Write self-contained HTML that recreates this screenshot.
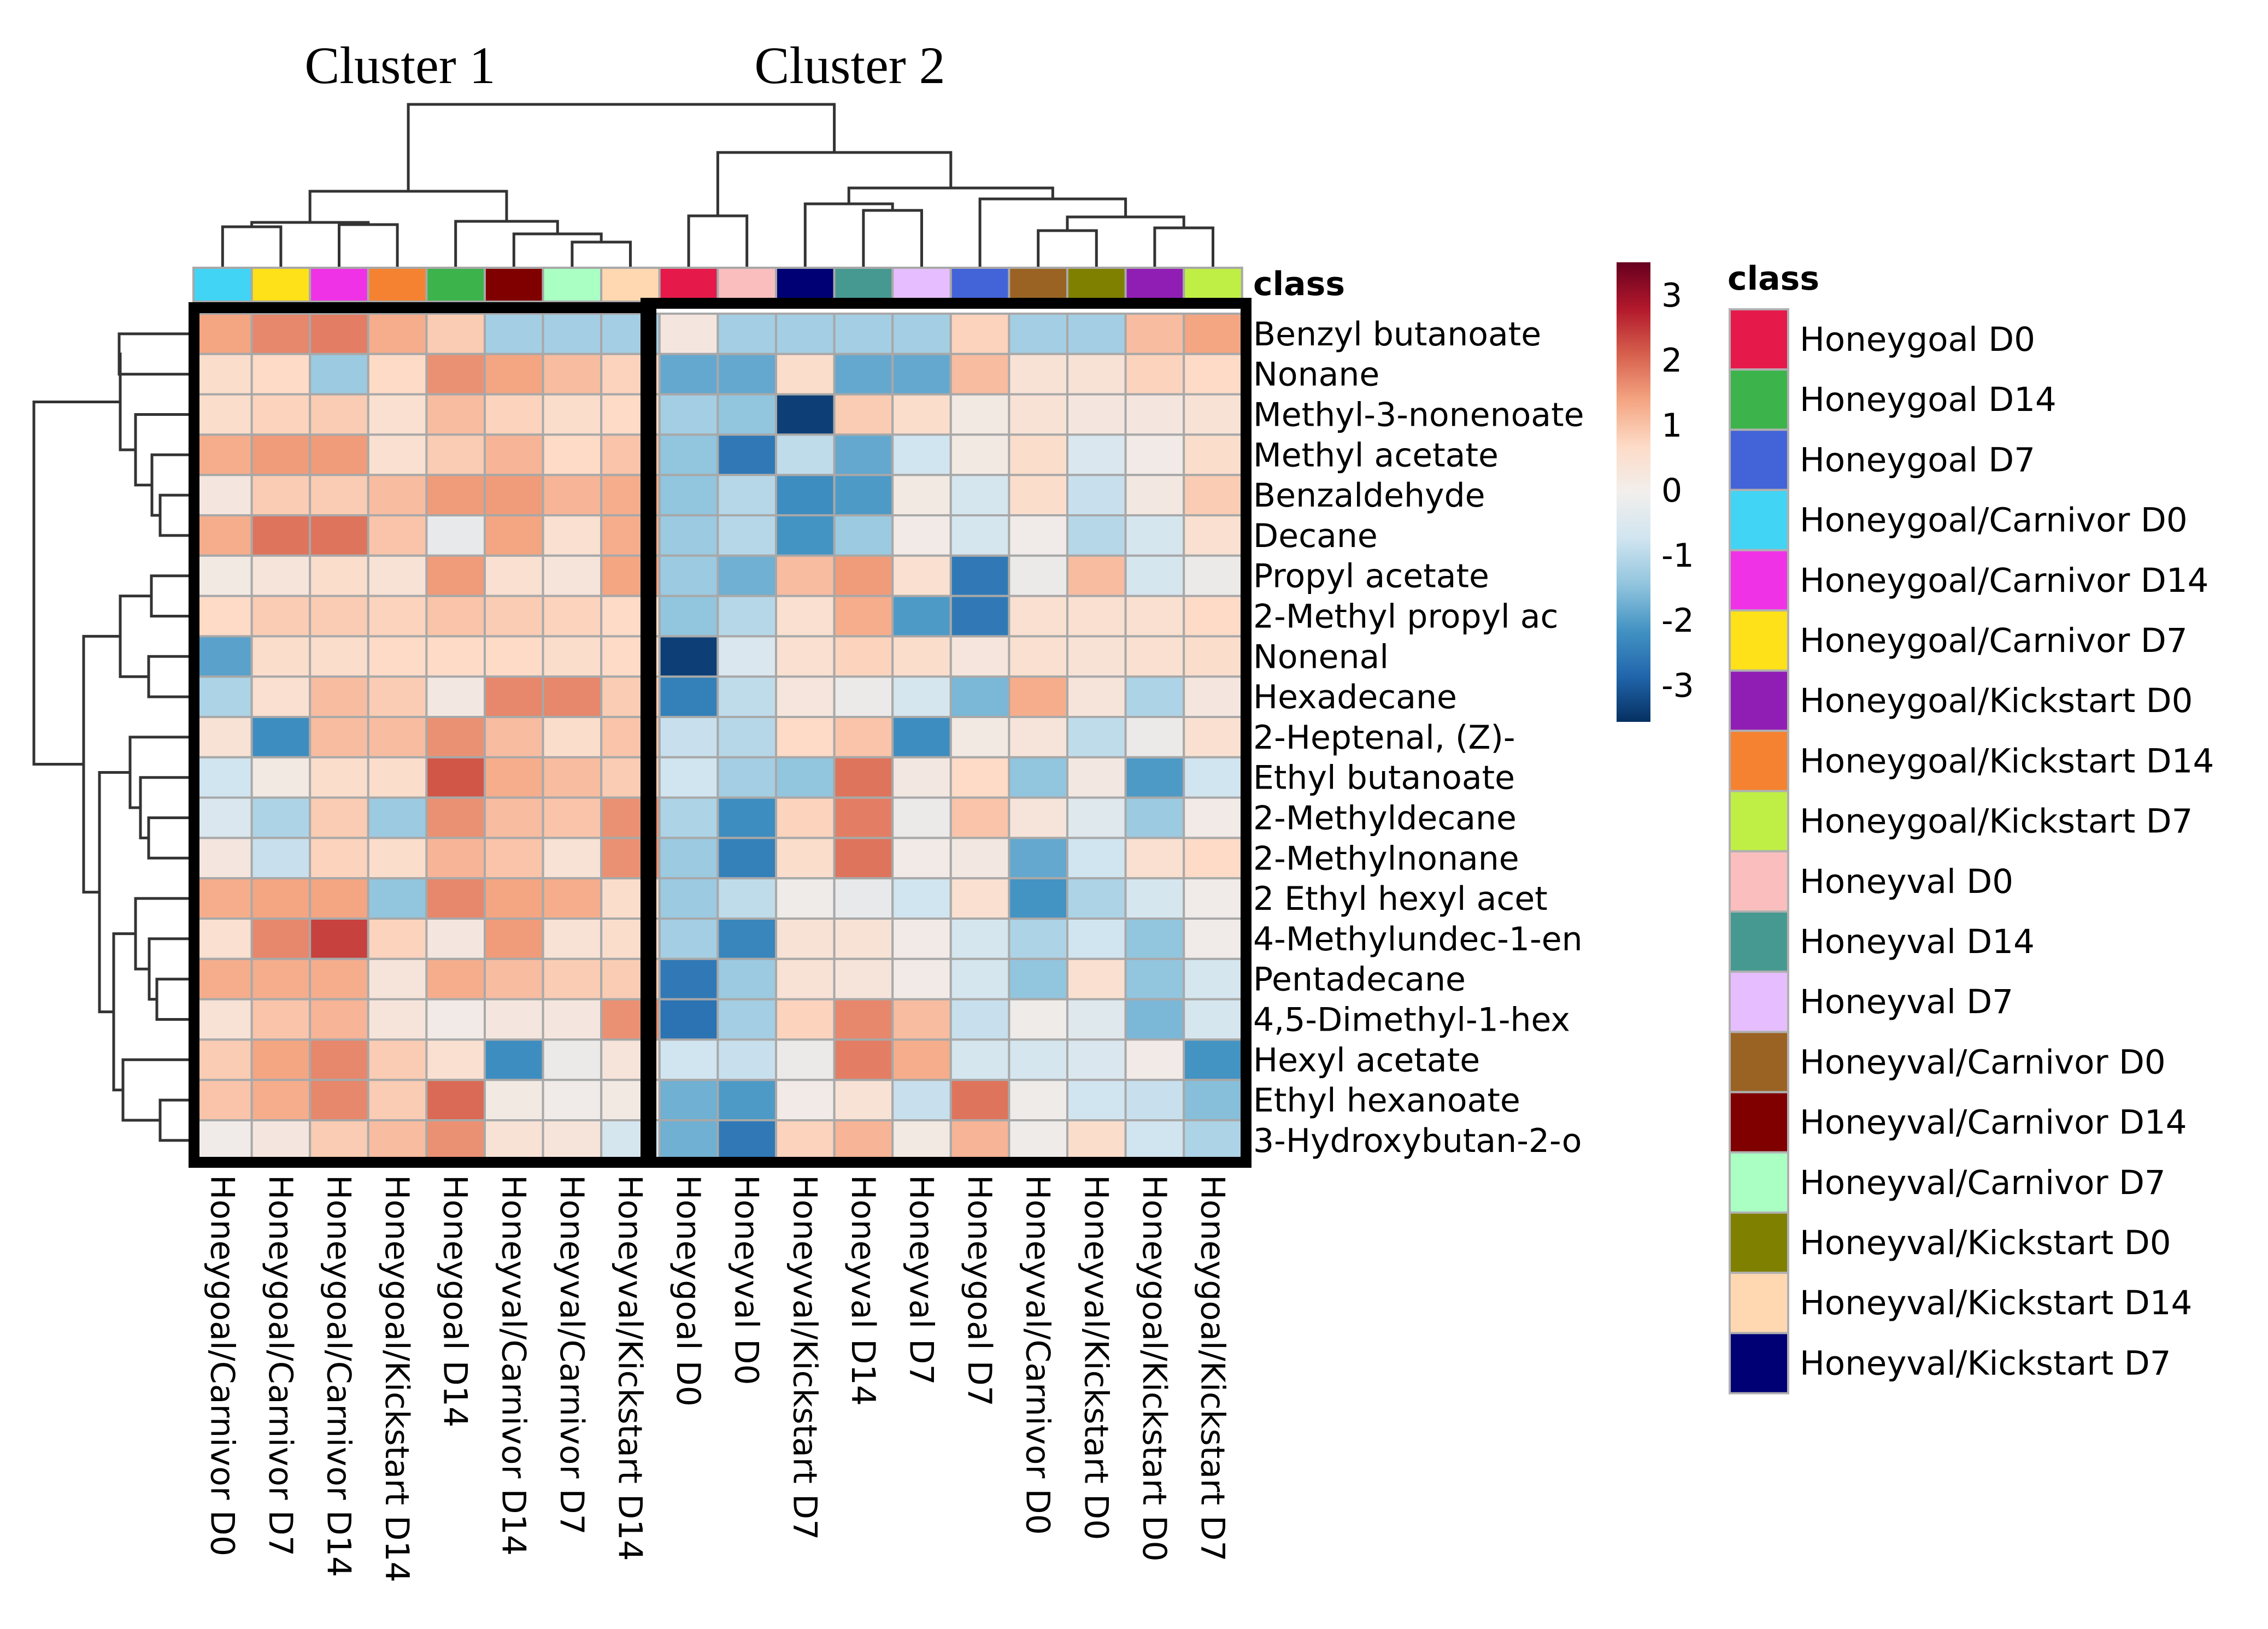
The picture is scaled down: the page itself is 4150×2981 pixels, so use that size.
<!DOCTYPE html>
<html><head><meta charset="utf-8"><style>
html,body{margin:0;padding:0;background:#fff;}
svg{display:block;}
</style></head><body>
<svg id="chart" width="4150" height="2981" viewBox="0 0 4150 2981" xmlns="http://www.w3.org/2000/svg">
<defs>
<linearGradient id="cbar" x1="0" y1="1" x2="0" y2="0">
<stop offset="0" stop-color="#053061"/><stop offset="0.1" stop-color="#2166ac"/><stop offset="0.2" stop-color="#4393c3"/><stop offset="0.3" stop-color="#92c5de"/><stop offset="0.4" stop-color="#d1e5f0"/><stop offset="0.5" stop-color="#f2efec"/><stop offset="0.6" stop-color="#fddbc7"/><stop offset="0.7" stop-color="#f4a582"/><stop offset="0.8" stop-color="#d6604d"/><stop offset="0.9" stop-color="#b2182b"/><stop offset="1" stop-color="#67001f"/>
</linearGradient>
</defs>
<text x="732" y="152" text-anchor="middle" font-family="Liberation Serif, serif" font-size="96">Cluster 1</text>
<text x="1555" y="152" text-anchor="middle" font-family="Liberation Serif, serif" font-size="96">Cluster 2</text>
<g id="g-col-dend"></g>
<g id="g-row-dend"></g>
<g id="g-classbar"></g>
<g id="g-cells"></g>
<g id="g-rowlabels"></g>
<g id="g-collabels"></g>
<text x="2293" y="540" font-family="DejaVu Sans, Liberation Sans, sans-serif" font-weight="bold" font-size="60">class</text>
<rect x="355" y="563" width="836" height="1564" fill="none" stroke="#000" stroke-width="20"/>
<rect x="1182" y="555" width="1098" height="1572" fill="none" stroke="#000" stroke-width="20"/>
<rect x="2958" y="480" width="62" height="841" fill="url(#cbar)"/>
<g id="g-cticks"></g>
<text x="3161" y="530" font-family="DejaVu Sans, Liberation Sans, sans-serif" font-weight="bold" font-size="60">class</text>
<g id="g-legend"></g>
</svg>
<script>
const rowNames = ["Benzyl butanoate","Nonane","Methyl-3-nonenoate","Methyl acetate","Benzaldehyde","Decane","Propyl acetate","2-Methyl propyl ac","Nonenal","Hexadecane","2-Heptenal, (Z)-","Ethyl butanoate","2-Methyldecane","2-Methylnonane","2 Ethyl hexyl acet","4-Methylundec-1-en","Pentadecane","4,5-Dimethyl-1-hex","Hexyl acetate","Ethyl hexanoate","3-Hydroxybutan-2-o"];
const colNames = ["Honeygoal/Carnivor D0","Honeygoal/Carnivor D7","Honeygoal/Carnivor D14","Honeygoal/Kickstart D14","Honeygoal D14","Honeyval/Carnivor D14","Honeyval/Carnivor D7","Honeyval/Kickstart D14","Honeygoal D0","Honeyval D0","Honeyval/Kickstart D7","Honeyval D14","Honeyval D7","Honeygoal D7","Honeyval/Carnivor D0","Honeyval/Kickstart D0","Honeygoal/Kickstart D0","Honeygoal/Kickstart D7"];
const legendNames = ["Honeygoal D0","Honeygoal D14","Honeygoal D7","Honeygoal/Carnivor D0","Honeygoal/Carnivor D14","Honeygoal/Carnivor D7","Honeygoal/Kickstart D0","Honeygoal/Kickstart D14","Honeygoal/Kickstart D7","Honeyval D0","Honeyval D14","Honeyval D7","Honeyval/Carnivor D0","Honeyval/Carnivor D14","Honeyval/Carnivor D7","Honeyval/Kickstart D0","Honeyval/Kickstart D14","Honeyval/Kickstart D7"];
const legendColors = ["#e6194b","#3cb44b","#4363d8","#42d4f4","#f032e6","#ffe119","#911eb4","#f58231","#bfef45","#fabebe","#469990","#e6beff","#9a6324","#800000","#aaffc3","#808000","#ffd8b1","#000075"];
const scaleTicks = [3,2,1,0,-1,-2,-3];
const values = [
[1.4,1.7,1.8,1.3,0.9,-1.2,-1.2,-1.2, 0.2,-1.2,-1.2,-1.2,-1.2,0.8,-1.2,-1.2,1.1,1.4],
[0.6,0.7,-1.3,0.7,1.6,1.4,1.1,0.8, -1.8,-1.8,0.6,-1.8,-1.8,1.1,0.4,0.4,0.8,0.7],
[0.6,0.8,0.9,0.5,1.1,0.8,0.6,0.7, -1.2,-1.4,-3.3,0.9,0.6,0.1,0.4,0.2,0.2,0.4],
[1.3,1.5,1.5,0.5,0.9,1.2,0.7,1.0, -1.4,-2.5,-0.9,-1.8,-0.7,0.1,0.6,-0.5,0.05,0.6],
[0.2,0.9,0.9,1.1,1.5,1.5,1.2,1.3, -1.4,-1.0,-2.2,-2.0,0.1,-0.6,0.6,-0.8,0.15,0.9],
[1.3,1.9,1.9,1.0,-0.2,1.4,0.5,1.3, -1.3,-1.0,-2.1,-1.3,0.05,-0.6,0.0,-1.0,-0.6,0.5],
[0.1,0.3,0.6,0.4,1.5,0.5,0.3,1.4, -1.3,-1.7,1.1,1.5,0.5,-2.5,-0.1,1.1,-0.6,-0.1],
[0.7,0.9,0.9,0.8,1.0,0.9,0.8,0.7, -1.4,-1.0,0.5,1.3,-2.0,-2.5,0.5,0.5,0.5,0.7],
[-1.9,0.6,0.6,0.7,0.7,0.7,0.6,0.7, -3.3,-0.5,0.5,0.8,0.6,0.25,0.5,0.4,0.5,0.6],
[-1.1,0.5,1.1,0.9,0.15,1.7,1.7,0.9, -2.4,-0.9,0.25,-0.1,-0.6,-1.6,1.3,0.3,-1.1,0.2],
[0.4,-2.2,1.1,1.1,1.6,1.1,0.6,1.0, -0.8,-1.0,0.7,1.0,-2.2,0.1,0.3,-0.9,-0.1,0.5],
[-0.7,0.1,0.6,0.6,2.2,1.3,1.1,0.9, -0.7,-1.2,-1.4,1.9,0.15,0.7,-1.4,0.15,-2.0,-0.7],
[-0.5,-1.1,0.9,-1.3,1.6,1.1,1.0,1.6, -1.1,-2.2,0.8,1.8,-0.1,1.0,0.3,-0.4,-1.3,0.05],
[0.2,-0.8,0.8,0.6,1.2,1.0,0.4,1.6, -1.3,-2.4,0.6,1.9,0.05,0.15,-1.8,-0.7,0.5,0.7],
[1.3,1.4,1.4,-1.4,1.7,1.4,1.3,0.6, -1.3,-0.9,-0.05,-0.2,-0.7,0.5,-2.1,-1.1,-0.6,0.0],
[0.5,1.7,2.4,0.8,0.2,1.5,0.4,0.6, -1.2,-2.3,0.4,0.4,0.05,-0.6,-1.1,-0.7,-1.4,0.0],
[1.3,1.3,1.3,0.3,1.3,1.1,0.9,0.9, -2.5,-1.3,0.4,0.3,0.05,-0.6,-1.4,0.5,-1.4,-0.6],
[0.4,1.0,1.2,0.3,0.05,0.2,0.2,1.6, -2.6,-1.2,0.8,1.7,1.1,-0.8,-0.05,-0.4,-1.6,-0.6],
[0.9,1.4,1.7,0.9,0.5,-2.2,-0.1,0.3, -0.7,-0.8,-0.1,1.8,1.3,-0.6,-0.6,-0.5,0.05,-2.1],
[1.0,1.3,1.7,0.9,2.0,0.1,0.0,0.1, -1.7,-2.0,0.05,0.4,-0.8,1.9,-0.05,-0.7,-0.8,-1.5],
[0.0,0.2,0.9,1.1,1.6,0.4,0.3,-0.6, -1.7,-2.5,0.8,1.2,0.1,1.2,-0.05,0.6,-0.7,-1.1]
];
const colMerges = [["L0","L1",415],["L2","L3",411],[0,1,407],["L6","L7",443],["L5",3,428],["L4",4,405],[2,5,350],["L8","L9",395],["L11","L12",385],["L10",8,373],["L14","L15",422],["L16","L17",417],[10,11,397],["L13",12,364],[9,13,344],[7,14,279],[6,15,191]];
const rowMerges = [["L0","L1",218],["L4","L5",293],["L3",1,278],["L2",2,248],[0,3,220],["L6","L7",277],["L8","L9",272],[5,6,220],["L12","L13",272],["L11",8,257],["L10",9,238],["L16","L17",287],["L15",11,273],["L14",12,248],["L19","L20",293],["L18",14,225],[13,15,208],[10,16,182],[7,17,153],[4,18,62]];

const NS="http://www.w3.org/2000/svg";
const X0=354, CW=106.6, Y0=574, RH=73.8;
const FONT="DejaVu Sans, Liberation Sans, sans-serif";
function colX(i){return X0+CW*i;}
function rowY(i){return Y0+RH*i;}
function mk(tag,attrs,parent){const e=document.createElementNS(NS,tag);for(const k in attrs)e.setAttribute(k,attrs[k]);parent.appendChild(e);return e;}
const stops=["#053061","#2166ac","#4393c3","#92c5de","#d1e5f0","#f0ebe8","#fddbc7","#f4a582","#d6604d","#b2182b","#67001f"];
function hex(h){return [parseInt(h.substr(1,2),16),parseInt(h.substr(3,2),16),parseInt(h.substr(5,2),16)];}
function colorOf(v){let t=(v+3.5)/7;t=Math.max(0,Math.min(1,t));const p=t*10;const i=Math.min(9,Math.floor(p));const f=p-i;const a=hex(stops[i]),b=hex(stops[i+1]);return "rgb("+a.map((c,k)=>Math.round(c+(b[k]-c)*f)).join(",")+")";}

const gC=document.getElementById("g-cells");
values.forEach((row,r)=>row.forEach((v,c)=>{
  const e=mk("rect",{x:colX(c),y:rowY(r),width:CW,height:RH,fill:colorOf(v),stroke:"#a8a8a8","stroke-width":4},gC);
  
  
}));
const gB=document.getElementById("g-classbar");
colNames.forEach((n,c)=>{
  const e=mk("rect",{x:colX(c),y:490,width:CW,height:62,fill:legendColors[legendNames.indexOf(n)],stroke:"#a8a8a8","stroke-width":4},gB);
  
  
});
const gR=document.getElementById("g-rowlabels");
rowNames.forEach((n,r)=>{
  const t=mk("text",{x:2293,y:rowY(r)+RH/2+21,"font-family":FONT,"font-size":60},gR);
  t.textContent=n;
  
  
});
const gL=document.getElementById("g-collabels");
colNames.forEach((n,c)=>{
  const cx=colX(c)+CW/2-21;
  const t=mk("text",{x:0,y:0,transform:"translate("+cx+",2150) rotate(90)","font-family":FONT,"font-size":60},gL);
  t.textContent=n;
  
  
});
function drawDend(merges,g,vertical){
  const pos=[],hgt=[];
  function get(k){ if(typeof k==="string"){const i=+k.slice(1);return vertical?[colX(i)+CW/2,490]:[rowY(i)+RH/2,354];} return [pos[k],hgt[k]]; }
  merges.forEach((m,i)=>{
    const a=get(m[0]),b=get(m[1]),h=m[2];
    pos[i]=(a[0]+b[0])/2;hgt[i]=h;
    let d;
    if(vertical) d="M"+a[0]+","+a[1]+"V"+h+"H"+b[0]+"V"+b[1];
    else d="M"+a[1]+","+a[0]+"H"+h+"V"+b[0]+"H"+b[1];
    const p=mk("path",{d:d,fill:"none",stroke:"#333","stroke-width":5},g);
    
    
  });
}
drawDend(colMerges,document.getElementById("g-col-dend"),true);
drawDend(rowMerges,document.getElementById("g-row-dend"),false);
const gT=document.getElementById("g-cticks");
scaleTicks.forEach(v=>{
  const t=mk("text",{x:3040,y:897-v*119+21,"font-family":FONT,"font-size":60},gT);
  t.textContent=String(v);
  
  
});
const gG=document.getElementById("g-legend");
legendNames.forEach((n,i)=>{
  const y=566+i*110.2;
  const r=mk("rect",{x:3165,y:y,width:107,height:110.2,fill:legendColors[i],stroke:"#b0b0b0","stroke-width":4},gG);
  
  
  const t=mk("text",{x:3293,y:y+76,"font-family":FONT,"font-size":61},gG);
  t.textContent=n;
  
  
});
</script>
</body></html>
